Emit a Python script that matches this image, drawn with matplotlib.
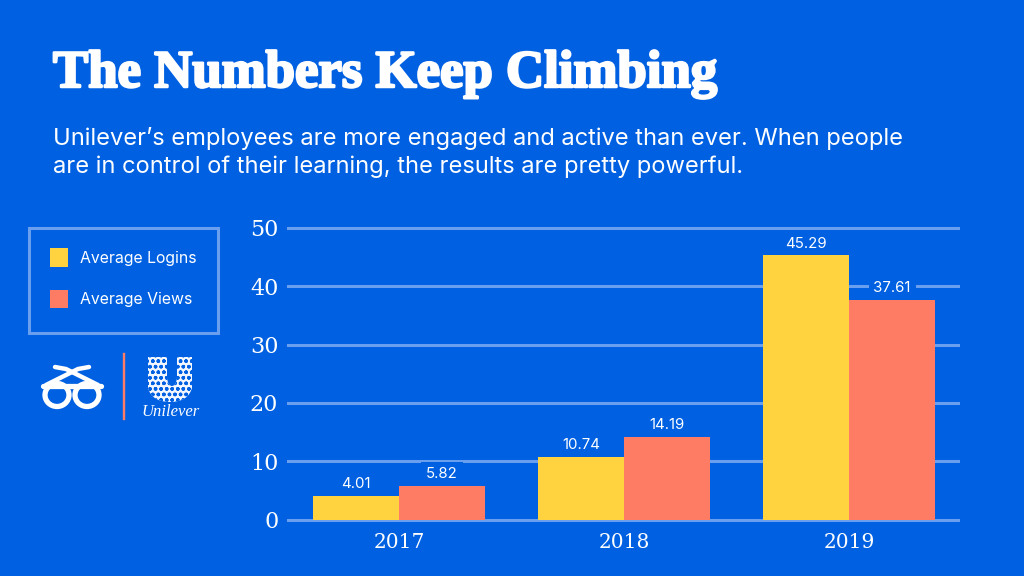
#!/usr/bin/env python
"""
Bar chart of average logins and views per year
"""

import numpy as np
import matplotlib
matplotlib.use("Agg")
import matplotlib.pyplot as plt
import matplotlib.patheffects as pe
from matplotlib.patches import Rectangle, Ellipse, PathPatch
from matplotlib.path import Path

BLUE = "#0060e2"
LINE = "#6a9ff0"
YELLOW = "#ffd23f"
CORAL = "#ff7c64"

years = ["2017", "2018", "2019"]
logins = [4.01, 10.74, 45.29]
views = [5.82, 14.19, 37.61]

fig = plt.figure(figsize=(10.24, 5.76), dpi=100, facecolor=BLUE)

# overlay in pixel coordinates for the heading, legend and logos
bg = fig.add_axes([0, 0, 1, 1])
bg.set_xlim(0, 1024)
bg.set_ylim(576, 0)
bg.axis("off")

title = bg.text(53, 74, "The Numbers Keep Climbing", color="white", fontsize=38,
                family="Liberation Serif", weight="bold", va="center", ha="left")
title.set_path_effects([pe.withStroke(linewidth=1.8, foreground="white")])
bg.text(53, 138, "Unilever’s employees are more engaged and active than ever. When people",
        color="white", fontsize=17.05, family="Inter", va="center")
bg.text(53, 167, "are in control of their learning, the results are pretty powerful.",
        color="white", fontsize=17.05, family="Inter", va="center")

# legend box
bg.add_patch(Rectangle((29, 228), 189, 105, fill=False, ec=LINE, lw=2.2))
bg.add_patch(Rectangle((49.5, 248), 18.5, 18.5, fc=YELLOW, ec="none"))
bg.add_patch(Rectangle((49.5, 289.5), 18.5, 18.5, fc=CORAL, ec="none"))
bg.text(80, 258, "Average Logins", color="white", fontsize=11.4, family="Inter", va="center")
bg.text(80, 299.5, "Average Views", color="white", fontsize=11.4, family="Inter", va="center")

# glasses logo
for cx in (57, 87):
    bg.add_patch(Ellipse((cx, 395), 24, 23, fill=False, ec="white", lw=3.8))
bg.plot([43, 101], [386, 386], color="white", lw=3.8, solid_capstyle="round")
bg.plot([46, 78, 89], [385, 369, 367], color="white", lw=3.2,
        solid_capstyle="round", solid_joinstyle="round")
bg.plot([98, 66, 55], [385, 369, 367], color="white", lw=3.2,
        solid_capstyle="round", solid_joinstyle="round")
bg.plot([123.5, 123.5], [354, 419], color=CORAL, lw=1.7)

# unilever mark
u_path = Path([(148, 357), (167, 357), (167, 378), (168, 386), (172, 386),
               (176, 386), (177, 378), (177, 357), (192, 357), (192, 388),
               (188, 402), (170, 402), (152, 402), (148, 388), (148, 357)],
              [Path.MOVETO, Path.LINETO, Path.LINETO, Path.CURVE3, Path.CURVE3,
               Path.CURVE3, Path.CURVE3, Path.LINETO, Path.LINETO, Path.LINETO,
               Path.CURVE3, Path.CURVE3, Path.CURVE3, Path.CURVE3, Path.CLOSEPOLY])
bg.add_patch(PathPatch(u_path, fc="#f2f6fe", ec=BLUE, lw=0, hatch="ooo"))
bg.text(171, 412, "Unilever", color="white", fontsize=12, family="Liberation Serif",
        style="italic", ha="center", va="center")

# chart
ax = fig.add_axes([288 / 1024, (576 - 519.5) / 576, 670 / 1024, 291.5 / 576])
ax.set_facecolor("none")

x = np.arange(len(years))
width = 0.382

ax.bar(x - width / 2, logins, width, color=YELLOW, zorder=3)
ax.bar(x + width / 2, views, width, color=CORAL, zorder=3)

ax.set_xlim(-0.493, 2.484)
ax.set_ylim(0, 50)
ax.set_yticks(range(0, 51, 10))
ax.set_xticks(x)
ax.set_xticklabels(years)
ax.grid(axis="y", color=LINE, lw=2.2, zorder=1)
ax.set_axisbelow(True)
for side in ax.spines:
    ax.spines[side].set_visible(False)
for line in ax.yaxis.get_gridlines():
    line.set_clip_on(False)
ax.tick_params(length=0, labelcolor="white")
ax.tick_params(axis="x", pad=10, labelsize=14.5)
ax.tick_params(axis="y", pad=7, labelsize=16)
for label in ax.get_xticklabels() + ax.get_yticklabels():
    label.set_family("DejaVu Serif")

# value labels
for i in x:
    ax.text(i - width / 2, logins[i] + 0.85, f"{logins[i]:.2f}", color="white",
            fontsize=10.8, family="Inter", ha="center", va="bottom", zorder=4)
    ax.text(i + width / 2, views[i] + 0.85, f"{views[i]:.2f}", color="white",
            fontsize=10.8, family="Inter", ha="center", va="bottom", zorder=4,
            bbox=dict(fc=BLUE, ec="none", pad=3.5))

fig.savefig("out.png", dpi=100, facecolor=BLUE)
